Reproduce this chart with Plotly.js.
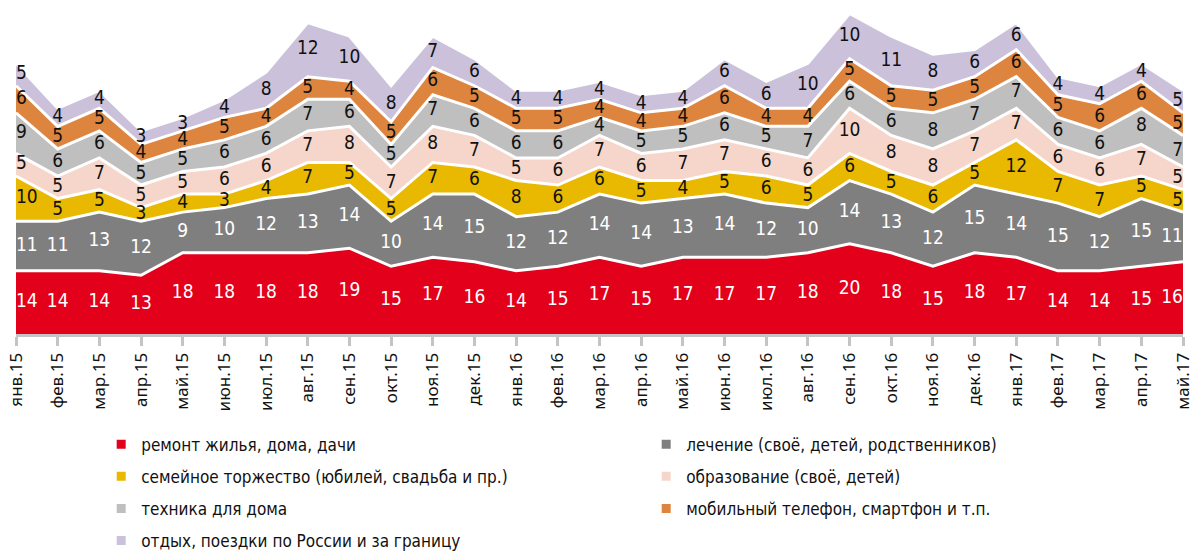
<!DOCTYPE html>
<html><head><meta charset="utf-8">
<script src="https://cdn.plot.ly/plotly-3.0.1.min.js"></script>
<style>html,body{margin:0;padding:0;background:#fff}#chart{width:1192px;height:552px}</style>
</head><body><div id="chart"></div>
<script>
const months = ['янв.15','фев.15','мар.15','апр.15','май.15','июн.15','июл.15','авг.15','сен.15','окт.15','ноя.15','дек.15',
  'янв.16','фев.16','мар.16','апр.16','май.16','июн.16','июл.16','авг.16','сен.16','окт.16','ноя.16','дек.16',
  'янв.17','фев.17','мар.17','апр.17','май.17'];

const seriesNames = [
  'ремонт жилья, дома, дачи',
  'лечение (своё, детей, родственников)',
  'семейное торжество (юбилей, свадьба и пр.)',
  'образование (своё, детей)',
  'техника для дома',
  'мобильный телефон, смартфон и т.п.',
  'отдых, поездки по России и за границу'
];

const remont      = [14,14,14,13,18,18,18,18,19,15,17,16,14,15,17,15,17,17,17,18,20,18,15,18,17,14,14,15,16];
const lechenie    = [11,11,13,12,9,10,12,13,14,10,14,15,12,12,14,14,13,14,12,10,14,13,12,15,14,15,12,15,11];
const torzhestvo  = [10,5,5,3,4,3,4,7,5,5,7,6,8,6,6,5,4,5,6,5,6,5,6,5,12,7,7,5,5];
const obrazovanie = [5,5,7,5,5,6,6,7,8,7,8,7,5,6,7,6,7,7,6,6,10,8,8,7,7,6,6,7,5];
const tehnika     = [9,6,6,5,5,6,6,7,6,5,7,6,6,6,4,5,5,6,5,7,6,6,8,7,7,6,6,8,7];
const mobilnyi    = [6,5,5,4,4,5,4,5,4,5,6,5,5,5,4,4,4,6,4,4,5,5,5,5,6,5,6,6,5];
const otdyh       = [5,4,4,3,3,4,8,12,10,8,7,6,4,4,4,4,4,6,6,10,10,11,8,6,6,4,4,4,5];

const seriesValues = [remont, lechenie, torzhestvo, obrazovanie, tehnika, mobilnyi, otdyh];
const fillColors = ['#E2001A','#7F7F7F','#E8B900','#F6D6CA','#BFBFBF','#DD853F','#CBC1DB'];
const labelColors = ['#FFFFFF','#FFFFFF','#111111','#111111','#111111','#111111','#111111'];
// legend column for each series (left column / right column)
const legendColumn = ['legend','legend2','legend','legend2','legend','legend2','legend'];

const labelFont = 'Liberation Sans Narrow, DejaVu Sans Condensed, Roboto Condensed, sans-serif';

const traces = [];
seriesValues.forEach((vals, k) => {
  traces.push({
    type: 'scatter', x: months, y: vals, name: seriesNames[k],
    stackgroup: 'one', mode: 'lines',
    line: {color: '#FFFFFF', width: 3, shape: 'linear'},
    fillcolor: fillColors[k], hoverinfo: 'skip',
    showlegend: false, legendgroup: 'g' + k
  });
});

const base = months.map(() => 0);
const positions = months.map((m, i) => i === 0 ? 'middle right' : (i === months.length - 1 ? 'middle left' : 'middle center'));
seriesValues.forEach((vals, k) => {
  const mids = vals.map((v, i) => base[i] + v / 2);
  vals.forEach((v, i) => { base[i] += v; });
  traces.push({
    type: 'scatter', x: months, y: mids, mode: 'text',
    text: vals.map(String), textposition: positions,
    textfont: {family: labelFont, size: 19, color: labelColors[k]},
    showlegend: false, hoverinfo: 'skip', cliponaxis: false
  });
});

// legend entries (small square swatches, as in the reference)
seriesNames.forEach((name, k) => {
  traces.push({
    type: 'scatter', x: [null], y: [null], mode: 'markers', name: name,
    marker: {symbol: 'square', size: 9, color: fillColors[k]},
    legend: legendColumn[k], legendgroup: 'g' + k, showlegend: true, hoverinfo: 'skip'
  });
});

const legendCommon = {
  orientation: 'v', yanchor: 'top', xanchor: 'left',
  itemwidth: 30, traceorder: 'grouped', tracegroupgap: 7,
  font: {family: labelFont, size: 17, color: '#111111'},
  bgcolor: 'rgba(0,0,0,0)', borderwidth: 0
};

const layout = {
  width: 1192, height: 552,
  margin: {l: 16, r: 9, t: 9, b: 218, autoexpand: false},
  paper_bgcolor: '#FFFFFF', plot_bgcolor: '#FFFFFF',
  showlegend: true,
  xaxis: {
    type: 'category', range: [0, 28], fixedrange: true,
    showgrid: false, zeroline: false,
    showline: true, linecolor: '#C4C4C4', linewidth: 3,
    ticks: 'outside', ticklen: 9, tickwidth: 3, tickcolor: '#C4C4C4',
    tickangle: -90,
    tickfont: {family: 'Noto Sans, sans-serif', size: 17, color: '#111111'}
  },
  yaxis: {
    range: [0, 72], visible: false, fixedrange: true, showgrid: false, zeroline: false
  },
  legend: Object.assign({}, legendCommon, {x: 0.073, y: -0.285}),
  legend2: Object.assign({}, legendCommon, {x: 0.54, y: -0.285}),
  hovermode: false
};

Plotly.newPlot('chart', traces, layout, {displayModeBar: false, staticPlot: true});
</script>
</body></html>
